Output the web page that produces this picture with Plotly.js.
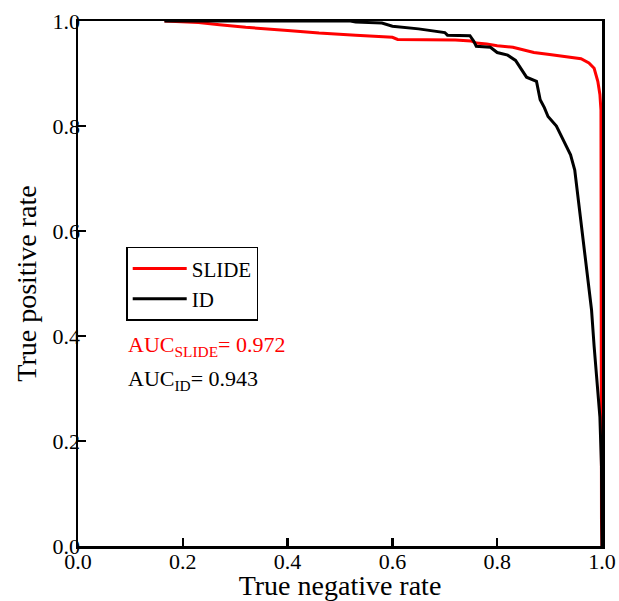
<!DOCTYPE html>
<html>
<head>
<meta charset="utf-8">
<script src="https://cdn.plot.ly/plotly-3.0.1.min.js"></script>
<style>html,body{margin:0;padding:0;background:#fff;}#chart{width:619px;height:601px;}</style>
</head>
<body>
<div id="chart"></div>
<script>
// SLIDE curve (true negative rate, true positive rate)
const tnrSlide = [0.165,0.23,0.27,0.32,0.40,0.46,0.53,0.60,0.61,0.65,0.72,0.75,0.76,0.78,0.80,0.83,0.85,0.87,0.90,0.93,0.96,0.975,0.985,0.992,0.996,0.998,0.998,0.998,0.998,0.999,1.0];
const tprSlide = [1.0,0.997,0.993,0.988,0.982,0.977,0.973,0.969,0.965,0.965,0.964,0.962,0.958,0.956,0.953,0.950,0.945,0.940,0.936,0.932,0.928,0.920,0.910,0.885,0.86,0.83,0.6,0.3,0.1,0.05,0.0];
// ID curve
const tnrId = [0.165,0.52,0.53,0.58,0.60,0.65,0.70,0.705,0.748,0.755,0.76,0.787,0.80,0.82,0.835,0.845,0.856,0.875,0.882,0.89,0.897,0.913,0.92,0.932,0.94,0.948,0.954,0.96,0.968,0.975,0.980,0.985,0.990,0.996,0.999,1.0];
const tprId = [1.0,1.0,0.998,0.996,0.99,0.985,0.978,0.973,0.972,0.962,0.952,0.950,0.940,0.935,0.925,0.91,0.893,0.885,0.85,0.835,0.818,0.800,0.785,0.762,0.745,0.716,0.665,0.621,0.55,0.49,0.45,0.38,0.32,0.246,0.151,0.0];
const seriesNames = ["SLIDE","ID"];
const aucLabels = ["AUC<sub>SLIDE</sub>= 0.972","AUC<sub>ID</sub>= 0.943"];
const tickVals = [0,0.2,0.4,0.6,0.8,1.0];
const tickText = ["0.0","0.2","0.4","0.6","0.8","1.0"];

const serif = "Liberation Serif";
const traces = [
  {x: tnrSlide, y: tprSlide, name: seriesNames[0], mode: "lines", line: {color: "#ff0000", width: 3}},
  {x: tnrId, y: tprId, name: seriesNames[1], mode: "lines", line: {color: "#000000", width: 3}}
];
const layout = {
  width: 619, height: 601,
  margin: {l: 78, r: 17, t: 21, b: 55},
  paper_bgcolor: "#fff", plot_bgcolor: "#fff",
  font: {family: serif, size: 22, color: "#000"},
  xaxis: {
    range: [0,1], tickmode: "array", tickvals: tickVals, ticktext: tickText,
    ticks: "inside", ticklen: 8, tickwidth: 2.5, tickcolor: "#000",
    showline: true, linewidth: 2.5, linecolor: "#000", mirror: true,
    showgrid: false, zeroline: false,
    tickfont: {family: serif, size: 22, color: "#000"},
    ticklabelstandoff: -6,
    title: {text: "True negative rate", font: {family: serif, size: 28, color: "#000"}, standoff: 2}
  },
  yaxis: {
    range: [0,1], tickmode: "array", tickvals: tickVals, ticktext: tickText,
    ticks: "inside", ticklen: 8, tickwidth: 2.5, tickcolor: "#000",
    showline: true, linewidth: 2.5, linecolor: "#000", mirror: true,
    showgrid: false, zeroline: false,
    tickfont: {family: serif, size: 22, color: "#000"},
    ticklabelstandoff: -9,
    title: {text: "True positive rate", font: {family: serif, size: 28, color: "#000"}, standoff: 8}
  },
  showlegend: true,
  legend: {
    x: 0.092, y: 0.57, xanchor: "left", yanchor: "top",
    bgcolor: "#fff", bordercolor: "#000", borderwidth: 1.5,
    font: {family: serif, size: 21, color: "#000"},
    itemwidth: 54, tracegroupgap: 0
  },
  annotations: [
    {xref: "paper", yref: "paper", x: 0.091, y: 0.381, xanchor: "left", yanchor: "middle", showarrow: false,
     text: aucLabels[0], font: {family: serif, size: 22, color: "#ff0000"}},
    {xref: "paper", yref: "paper", x: 0.091, y: 0.316, xanchor: "left", yanchor: "middle", showarrow: false,
     text: aucLabels[1], font: {family: serif, size: 22, color: "#000"}}
  ]
};
Plotly.newPlot("chart", traces, layout, {displayModeBar: false, staticPlot: true});
</script>
</body>
</html>
